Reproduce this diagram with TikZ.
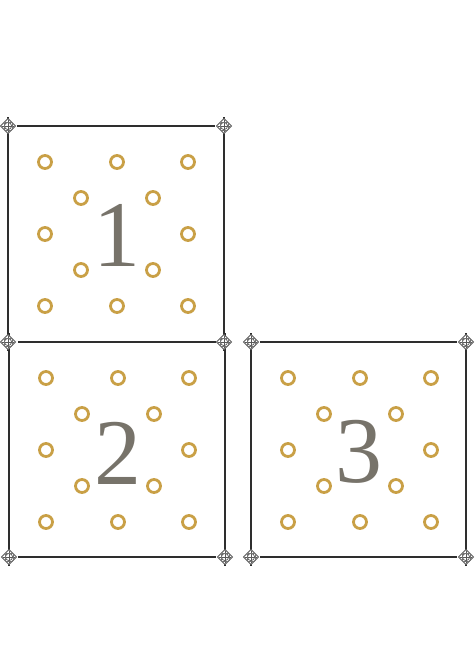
\documentclass[tikz,border=0pt]{standalone}
\usepackage{fontspec}
\setmainfont{Liberation Serif}
\definecolor{gold}{HTML}{C9A046}
\definecolor{numc}{HTML}{77736A}
\definecolor{linec}{HTML}{2E2E2E}
\tikzset{
  ring/.style={draw=gold, line width=2.8pt, circle, minimum size=13pt, inner sep=0pt},
  numeral/.style={text=numc, font=\fontsize{94}{94}\selectfont, inner sep=0pt},
  edge/.style={draw=linec, line width=1.2pt},
  pics/knot/.style={code={
    \draw[line width=0.8pt, draw=black!65, fill=white] (0,7.5) -- (7.5,0) -- (0,-7.5) -- (-7.5,0) -- cycle;
    \draw[line width=0.7pt, draw=black!65] (0,0) circle (3.6);
    \draw[line width=0.7pt, draw=black!65] (-6,0) -- (6,0) (0,-6) -- (0,6);
    \draw[line width=0.6pt, draw=black!55] (-3.5,4) -- (3.5,4) (-3.5,-4) -- (3.5,-4) (-4,-3.5) -- (-4,3.5) (4,-3.5) -- (4,3.5);
  }}
}
\begin{document}
\begin{tikzpicture}[x=1pt,y=-1pt]
\useasboundingbox (0,0) rectangle (475,664);
% corner coordinates
\coordinate (a1) at (8,126); \coordinate (b1) at (224,126);
\coordinate (c1) at (8,342); \coordinate (d1) at (224,342);
\coordinate (a2) at (9,342); \coordinate (b2) at (225,342);
\coordinate (c2) at (9,557); \coordinate (d2) at (225,557);
\coordinate (a3) at (251,342); \coordinate (b3) at (466,342);
\coordinate (c3) at (251,557); \coordinate (d3) at (466,557);
% square 1
\draw[edge] ([xshift=9]a1) -- ([xshift=-9]b1);
\draw[edge] ([yshift=9]a1) -- ([yshift=-9]c1);
\draw[edge] ([yshift=9]b1) -- ([yshift=-9]d1);
% square 2
\draw[edge] ([xshift=9]a2) -- ([xshift=-9]b2);
\draw[edge] ([yshift=9]a2) -- ([yshift=-9]c2);
\draw[edge] ([yshift=9]b2) -- ([yshift=-9]d2);
\draw[edge] ([xshift=9]c2) -- ([xshift=-9]d2);
% square 3
\draw[edge] ([xshift=9]a3) -- ([xshift=-9]b3);
\draw[edge] ([yshift=9]a3) -- ([yshift=-9]c3);
\draw[edge] ([yshift=9]b3) -- ([yshift=-9]d3);
\draw[edge] ([xshift=9]c3) -- ([xshift=-9]d3);
% ornaments
\foreach \p in {a1,b1,c1,d1,c2,d2,a3,b3,c3,d3} \pic at (\p) {knot};
% rings
\foreach \ox/\oy/\s in {45/162/1,46/378/2,288/378/3}{
  \foreach \dx/\dy in {0/0,72/0,143/0,36/36,108/36,0/72,143/72,36/108,108/108,0/144,72/144,143/144}{
    \node[ring] (r\s-\dx-\dy) at (\ox+\dx,\oy+\dy) {};
  }
}
% numerals
\node[numeral] (n1) at (117,235) {1};
\node[numeral] (n2) at (118,453) {2};
\node[numeral] (n3) at (359,452) {3};
\end{tikzpicture}
\end{document}
